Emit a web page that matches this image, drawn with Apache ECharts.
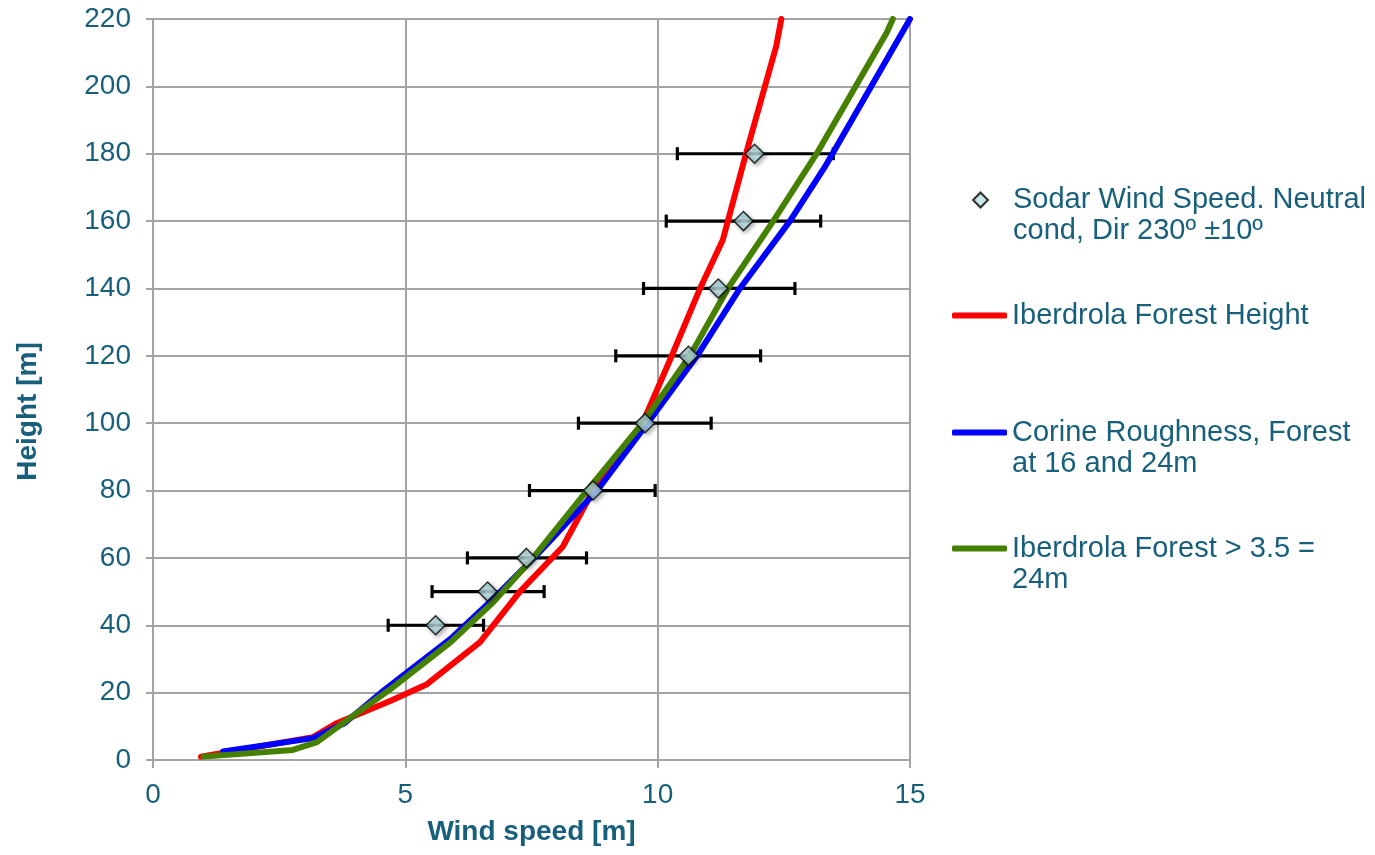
<!DOCTYPE html>
<html><head><meta charset="utf-8">
<script src="https://cdn.jsdelivr.net/npm/echarts@6/dist/echarts.min.js"></script>
<style>html,body{margin:0;padding:0;background:#fff}#c{width:1375px;height:855px}</style>
</head><body><div id="c"></div>
<script>
// ---- Data ----
const sodarHeight = [40, 50, 60, 80, 100, 120, 140, 160, 180];
const sodarSpeed  = [5.60, 6.63, 7.40, 8.72, 9.75, 10.61, 11.20, 11.70, 11.92];
const sodarLow    = [4.66, 5.53, 6.23, 7.46, 8.43, 9.17, 9.72, 10.17, 10.39];
const sodarHigh   = [6.55, 7.75, 8.59, 9.95, 11.06, 12.04, 12.72, 13.23, 13.48];

const redSpeed  = [0.95, 3.17, 3.65, 4.70, 5.43, 6.48, 7.27, 8.12, 8.72, 9.70, 10.28, 10.84, 11.29, 11.75, 12.35, 12.45];
const redHeight = [1, 6.8, 11, 17.5, 22.5, 35, 50, 63.3, 80, 100, 120, 140, 154.4, 180, 212, 220];

const blueSpeed  = [1.39, 3.17, 3.80, 4.60, 5.90, 6.75, 7.55, 8.80, 9.80, 10.78, 11.63, 12.62, 13.31, 15.0];
const blueHeight = [2.5, 6.5, 11, 21, 36, 48, 60, 80, 100, 120, 140, 160, 176, 220];

const greenSpeed  = [1.00, 2.77, 3.25, 3.77, 4.70, 5.90, 6.75, 7.53, 8.60, 9.70, 10.64, 11.39, 12.29, 13.15, 14.54, 14.66];
const greenHeight = [1, 3, 5.3, 11, 21, 35, 47, 60, 80, 100, 120, 140, 160, 180, 216, 220];

const names = [
  'Sodar Wind Speed. Neutral\ncond, Dir 230º ±10º',
  'Iberdrola Forest Height',
  'Corine Roughness, Forest\nat 16 and 24m',
  'Iberdrola Forest > 3.5 =\n24m'
];
const xTitle = 'Wind speed [m]';
const yTitle = 'Height [m]';

// ---- Styles ----
const TEAL = '#185f7c';
const GRID = '#a3a3a3';
const FONT = '"Liberation Sans", Arial, sans-serif';
const zip = (xs, ys) => xs.map((x, i) => [x, ys[i]]);

const chart = echarts.init(document.getElementById('c'), null, {renderer: 'canvas'});

function legendItem(name, left, top, twoLine, icon, iconW, iconH, padLeft) {
  return {
    data: [name], left: left, top: top, orient: 'vertical', padding: 0,
    icon: icon, itemWidth: iconW, itemHeight: iconH, itemGap: 0,
    symbolKeepAspect: true, selectedMode: false,
    formatter: n => (twoLine ? '\n' + n : n),
    textStyle: {fontFamily: FONT, fontSize: 29, lineHeight: 31, color: TEAL,
                padding: [0, 0, 0, padLeft]}
  };
}

chart.setOption({
  animation: false,
  backgroundColor: '#fff',
  grid: {left: 153, right: 465, top: 19, bottom: 95, containLabel: false},
  legend: [
    legendItem(names[0], 972, 153.5, true, 'diamond', 15, 15, 20),
    legendItem(names[1], 952, 300, false, 'roundRect', 55, 6, 0),
    legendItem(names[2], 952, 386, true, 'roundRect', 55, 6, 0),
    legendItem(names[3], 952, 502, true, 'roundRect', 55, 6, 0)
  ],
  xAxis: {
    type: 'value', min: 0, max: 15, interval: 5,
    name: xTitle, nameLocation: 'middle', nameGap: 58,
    nameTextStyle: {fontFamily: FONT, fontSize: 28, fontWeight: 'bold', color: TEAL},
    axisLine: {show: true, lineStyle: {color: GRID, width: 2}},
    axisTick: {show: true, length: 8, lineStyle: {color: GRID, width: 2}},
    axisLabel: {fontFamily: FONT, fontSize: 28, color: TEAL, margin: 21},
    splitLine: {show: true, lineStyle: {color: GRID, width: 2}}
  },
  yAxis: {
    type: 'value', min: 0, max: 220, interval: 20,
    name: yTitle, nameLocation: 'middle', nameGap: 111,
    nameTextStyle: {fontFamily: FONT, fontSize: 28, fontWeight: 'bold', color: TEAL,
                    padding: [0, 44, 0, 0]},
    axisLine: {show: true, lineStyle: {color: GRID, width: 2}},
    axisTick: {show: true, length: 7, lineStyle: {color: GRID, width: 2}},
    axisLabel: {fontFamily: FONT, fontSize: 28, color: TEAL, margin: 22},
    splitLine: {show: true, lineStyle: {color: GRID, width: 2}}
  },
  series: [
    {
      type: 'custom', name: 'errorbars', silent: true, z: 1,
      data: sodarHeight.map((h, i) => [sodarLow[i], sodarHigh[i], h]),
      encode: {x: [0, 1], y: 2},
      renderItem: function (params, api) {
        const lo = api.coord([api.value(0), api.value(2)]);
        const hi = api.coord([api.value(1), api.value(2)]);
        const cap = 6.5;
        const st = {stroke: '#000', lineWidth: 3.2};
        return {type: 'group', children: [
          {type: 'line', shape: {x1: lo[0], y1: lo[1], x2: hi[0], y2: hi[1]}, style: st},
          {type: 'line', shape: {x1: lo[0], y1: lo[1] - cap, x2: lo[0], y2: lo[1] + cap}, style: st},
          {type: 'line', shape: {x1: hi[0], y1: hi[1] - cap, x2: hi[0], y2: hi[1] + cap}, style: st}
        ]};
      }
    },
    {
      type: 'line', name: names[1], z: 2, showSymbol: false, symbol: 'none',
      data: zip(redSpeed, redHeight), color: '#ff0000',
      lineStyle: {color: '#ff0000', width: 6, cap: 'round', join: 'round'}
    },
    {
      type: 'line', name: names[2], z: 3, showSymbol: false, symbol: 'none',
      data: zip(blueSpeed, blueHeight), color: '#0000ff',
      lineStyle: {color: '#0000ff', width: 6, cap: 'round', join: 'round'}
    },
    {
      type: 'line', name: names[3], z: 4, showSymbol: false, symbol: 'none',
      data: zip(greenSpeed, greenHeight), color: '#468000',
      lineStyle: {color: '#468000', width: 6, cap: 'round', join: 'round'}
    },
    {
      type: 'scatter', name: names[0], z: 5, symbol: 'diamond', symbolSize: 19,
      data: zip(sodarSpeed, sodarHeight),
      itemStyle: {
        color: new echarts.graphic.RadialGradient(0.5, 0.5, 0.7, [
          {offset: 0, color: '#c4e6ea'}, {offset: 1, color: '#8fc3ca'}
        ]),
        borderColor: '#000', borderWidth: 1.5,
        shadowBlur: 4, shadowColor: 'rgba(0,0,0,0.35)', shadowOffsetX: 2, shadowOffsetY: 2
      }
    }
  ]
});
</script>
</body></html>
